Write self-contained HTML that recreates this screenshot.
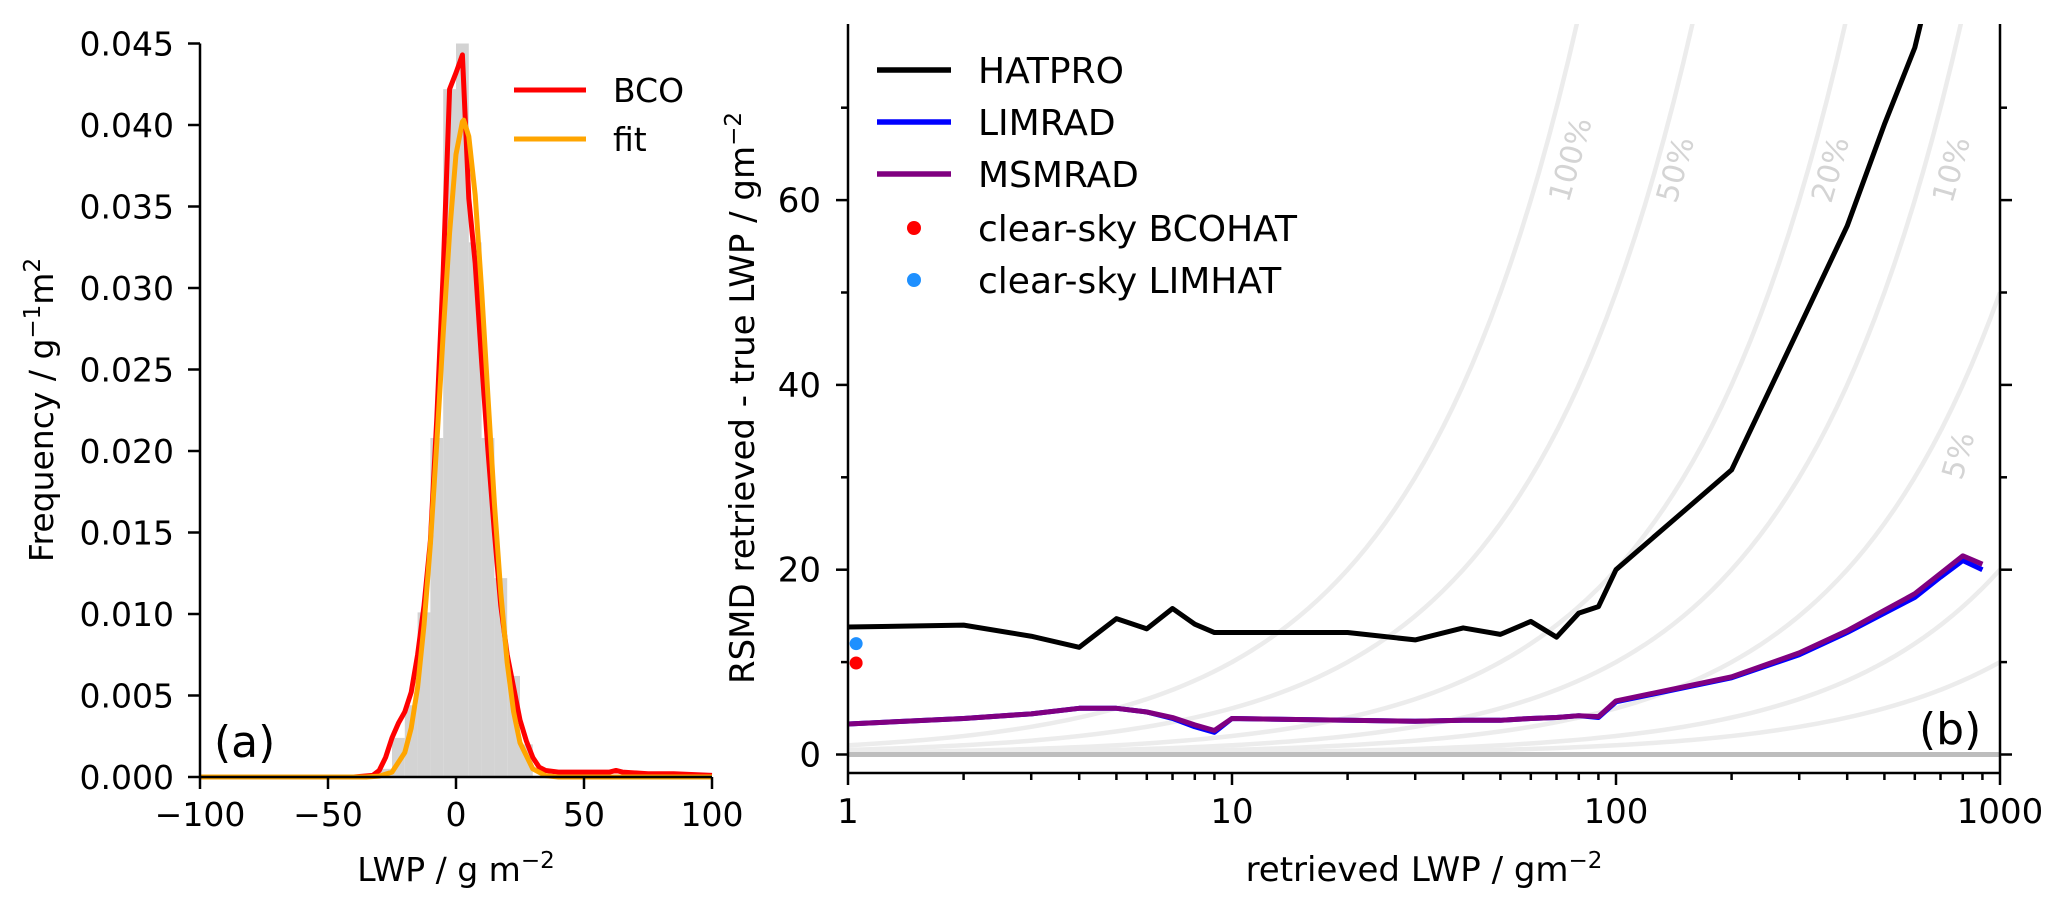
<!DOCTYPE html>
<html>
<head>
<meta charset="utf-8">
<style>
html,body{margin:0;padding:0;background:#fff;}
svg{display:block;font-family:"DejaVu Sans","Liberation Sans",sans-serif;}
</style>
</head>
<body>
<svg id="fig" width="2067" height="910" viewBox="0 0 2067 910" xmlns="http://www.w3.org/2000/svg">
<defs>
<clipPath id="clipR"><rect x="848" y="24" width="1152" height="749"/></clipPath>
<clipPath id="clipL"><rect x="200" y="30" width="512" height="747"/></clipPath>
</defs>
<g id="panelA"></g>
<g id="panelB"></g>
</svg>
<script>
// ---------- Panel (a) data ----------
const histEdgesA = [-30,-25,-20,-15,-10,-5,0,5,10,15,20,25,30];
const histHeightsA = [0.0005,0.0024,0.0044,0.0101,0.0208,0.0422,0.0450,0.0328,0.0208,0.0122,0.0062,0.0020];
const bcoX = [-100,-40,-32.5,-30,-27.5,-25,-22.5,-20,-17.5,-15,-12.5,-10,-7.5,-5,-2.5,0,2.5,5,7.5,10,12.5,15,17.5,20,22.5,25,27.5,30,32.5,35,40,50,60,62.5,65,75,85,100];
const bcoY = [0,0,0.0001,0.0004,0.0012,0.0024,0.0033,0.0040,0.0052,0.0075,0.0105,0.0145,0.0220,0.0310,0.0422,0.0432,0.0443,0.0355,0.0315,0.0255,0.0200,0.0150,0.0105,0.0075,0.0055,0.0035,0.0022,0.0012,0.0006,0.0004,0.0003,0.0003,0.0003,0.0004,0.0003,0.0002,0.0002,0.0001];
const fitX = [-100,-35,-30,-25,-20,-17.5,-15,-12.5,-10,-7.5,-5,-2.5,0,2.5,3,5,7.5,10,12.5,15,17.5,20,22.5,25,30,35,40,100];
const fitY = [0,0,0.00005,0.0003,0.0015,0.0030,0.0055,0.0093,0.0143,0.0205,0.0272,0.0334,0.0382,0.0402,0.0403,0.0393,0.0357,0.0299,0.0233,0.0168,0.0113,0.0070,0.0040,0.0021,0.0005,0.00008,0,0];
const xTicksA = [-100,-50,0,50,100];
const xTickLabelsA = ["\u2212100","\u221250","0","50","100"];
const yTicksA = [0,0.005,0.01,0.015,0.02,0.025,0.03,0.035,0.04,0.045];
const yTickLabelsA = ["0.000","0.005","0.010","0.015","0.020","0.025","0.030","0.035","0.040","0.045"];

// ---------- Panel (b) data ----------
const lwpX = [1,2,3,4,5,6,7,8,9,10,20,30,40,50,60,70,80,90,100,200,300,400,500,600,700,800,900];
const hatproY = [13.8,14.0,12.8,11.6,14.7,13.6,15.8,14.1,13.2,13.2,13.2,12.4,13.7,13.0,14.4,12.7,15.3,16.0,20.0,30.8,46.2,57.2,68.2,76.5,88,100,110];
const limradY = [3.3,3.9,4.4,5.0,5.0,4.6,3.9,3.0,2.4,3.9,3.7,3.6,3.7,3.7,3.9,4.0,4.2,4.0,5.7,8.3,10.8,13.2,15.3,17.0,19.2,21.0,20.0];
const msmradY = [3.3,3.9,4.4,5.0,5.0,4.6,4.0,3.2,2.6,3.9,3.7,3.6,3.7,3.7,3.9,4.0,4.2,4.1,5.8,8.4,11.0,13.4,15.6,17.4,19.6,21.5,20.6];
const clearBcoX = [1.05], clearBcoY = [9.9];
const clearLimX = [1.05], clearLimY = [12.0];
const pctLevels = [1,0.5,0.2,0.1,0.05,0.02,0.01];
const pctLabels = ["100%","50%","20%","10%","5%"];
const xTicksB = [1,10,100,1000];
const xTickLabelsB = ["1","10","100","1000"];
const yTicksB = [0,20,40,60];
const yTickLabelsB = ["0","20","40","60"];
const yMinorB = [10,30,50,70];

// ---------- scales ----------
const xL = v => 200 + (v + 100) * 2.56;
const yL = v => 777 - v * 16300;
const xR = v => 848 + Math.log10(v) * 384;
const yR = v => 754.5 - v * 9.24;

const NS = "http://www.w3.org/2000/svg";
function mk(tag, attrs, parent, text) {
  const e = document.createElementNS(NS, tag);
  for (const k in attrs) e.setAttribute(k, attrs[k]);
  if (text !== undefined) e.textContent = text;
  parent.appendChild(e);
  return e;
}
function pathFrom(xs, ys, fx, fy) {
  return xs.map((x, i) => (i ? "L" : "M") + fx(x).toFixed(2) + "," + fy(ys[i]).toFixed(2)).join(" ");
}

// ================= Panel A =================
const A = document.getElementById("panelA");
const histG = mk("g", {"clip-path": "url(#clipL)"}, A);


for (let i = 0; i < histHeightsA.length; i++) {
  const x0 = xL(histEdgesA[i]), x1 = xL(histEdgesA[i + 1]);
  const r = mk("rect", {x: x0, y: yL(histHeightsA[i]), width: x1 - x0, height: yL(0) - yL(histHeightsA[i]), fill: "#d3d3d3"}, histG);
  
  
}
const bcoP = mk("path", {d: pathFrom(bcoX, bcoY, xL, yL), fill: "none", stroke: "#ff0000", "stroke-width": 5, "stroke-linejoin": "round"}, A);


const fitP = mk("path", {d: pathFrom(fitX, fitY, xL, yL), fill: "none", stroke: "#ffa500", "stroke-width": 5, "stroke-linejoin": "round"}, A);



// axes A
const axA = mk("g", {stroke: "#000", "stroke-width": 2.5, fill: "none"}, A);


mk("line", {x1: 200, y1: 43.5, x2: 200, y2: 777}, axA);
mk("line", {x1: 200, y1: 777, x2: 712, y2: 777}, axA);
xTicksA.forEach((v, i) => {
  mk("line", {x1: xL(v), y1: 777, x2: xL(v), y2: 789}, axA);
  const t = mk("text", {x: xL(v), y: 826, "font-size": 33, "text-anchor": "middle", fill: "#000"}, A, xTickLabelsA[i]);
  
  
});
yTicksA.forEach((v, i) => {
  mk("line", {x1: 188, y1: yL(v), x2: 200, y2: yL(v)}, axA);
  const t = mk("text", {x: 174, y: yL(v) + 12, "font-size": 33, "text-anchor": "end", fill: "#000"}, A, yTickLabelsA[i]);
  
  
});
</script>
<script>
(function(){
  const A = document.getElementById("panelA");
  A.insertAdjacentHTML("beforeend",
  '<text x="456" y="881" font-size="33" text-anchor="middle">LWP / g m<tspan dy="-13" font-size="23">\u22122</tspan></text>' +
  '<text transform="translate(53,410) rotate(-90)" font-size="33" text-anchor="middle">Frequency / g<tspan dy="-13" font-size="23">\u22121</tspan><tspan dy="13">m</tspan><tspan dy="-13" font-size="23">2</tspan></text>' +
  '<text x="214" y="757" font-size="44">(a)</text>' +
  '<g>' +
  '<line x1="514" y1="90" x2="586" y2="90" stroke="#ff0000" stroke-width="5"/>' +
  '<text x="613" y="102" font-size="33">BCO</text>' +
  '<line x1="514" y1="139" x2="586" y2="139" stroke="#ffa500" stroke-width="5"/>' +
  '<text x="613" y="151" font-size="33">fit</text>' +
  '</g>');
})();
</script>
<script>
// ================= Panel B =================
const B = document.getElementById("panelB");
const plotB = mk("g", {"clip-path": "url(#clipR)"}, B);



const guideXs = [];
for (let k = 0; k <= 120; k++) guideXs.push(Math.pow(10, 3 * k / 120));
pctLevels.forEach(p => {
  const g = mk("path", {d: guideXs.map((x, i) => (i ? "L" : "M") + xR(x).toFixed(2) + "," + yR(p * x).toFixed(2)).join(" "),
    fill: "none", stroke: "#ececec", "stroke-width": 4.5}, plotB);
  
  
});
const zl = mk("line", {x1: 848, y1: yR(0), x2: 2000, y2: yR(0), stroke: "#bdbdbd", "stroke-width": 5}, plotB);



const hp = mk("path", {d: pathFrom(lwpX, hatproY, xR, yR), fill: "none", stroke: "#000", "stroke-width": 5, "stroke-linejoin": "round"}, plotB);


const lr = mk("path", {d: pathFrom(lwpX, limradY, xR, yR), fill: "none", stroke: "#0000ff", "stroke-width": 5, "stroke-linejoin": "round"}, plotB);


const ms = mk("path", {d: pathFrom(lwpX, msmradY, xR, yR), fill: "none", stroke: "#800080", "stroke-width": 5, "stroke-linejoin": "round"}, plotB);


clearBcoX.forEach((x, i) => {
  const c = mk("circle", {cx: xR(x), cy: yR(clearBcoY[i]), r: 6.5, fill: "#ff0000"}, plotB);
  
  
});
clearLimX.forEach((x, i) => {
  const c = mk("circle", {cx: xR(x), cy: yR(clearLimY[i]), r: 6.5, fill: "#1e90ff"}, plotB);
  
  
});

const axB = mk("g", {stroke: "#000", "stroke-width": 2.5, fill: "none"}, B);


mk("line", {x1: 848, y1: 24, x2: 848, y2: 773}, axB);
mk("line", {x1: 2000, y1: 24, x2: 2000, y2: 773}, axB);
mk("line", {x1: 848, y1: 773, x2: 2000, y2: 773}, axB);
xTicksB.forEach((v, i) => {
  mk("line", {x1: xR(v), y1: 773, x2: xR(v), y2: 785}, axB);
  const t = mk("text", {x: xR(v), y: 823, "font-size": 34, "text-anchor": "middle", fill: "#000"}, B, xTickLabelsB[i]);
  
  
});
for (let d = 1; d < 1000; d *= 10) {
  for (let m = 2; m <= 9; m++) mk("line", {x1: xR(d * m), y1: 773, x2: xR(d * m), y2: 780}, axB);
}
yTicksB.forEach((v, i) => {
  mk("line", {x1: 836, y1: yR(v), x2: 848, y2: yR(v)}, axB);
  mk("line", {x1: 2000, y1: yR(v), x2: 2012, y2: yR(v)}, axB);
  const t = mk("text", {x: 821, y: yR(v) + 12, "font-size": 34, "text-anchor": "end", fill: "#000"}, B, yTickLabelsB[i]);
  
  
});
yMinorB.forEach(v => {
  mk("line", {x1: 841, y1: yR(v), x2: 848, y2: yR(v)}, axB);
  mk("line", {x1: 2000, y1: yR(v), x2: 2007, y2: yR(v)}, axB);
});
</script>
<script>
(function(){
  const B = document.getElementById("panelB");
  const pctPos = [[1572,160],[1677,170],[1832,170],[1953,170],[1960,456]];
  let s = '';
  pctPos.forEach((p, i) => {
    s += '<text transform="translate(' + p[0] + ',' + p[1] + ') rotate(-74)" font-size="30" fill="#d4d4d4" text-anchor="middle" dominant-baseline="middle">' + pctLabels[i] + '</text>';
  });
  s += '<text x="1424" y="881" font-size="34" text-anchor="middle">retrieved LWP / gm<tspan dy="-13" font-size="23">\u22122</tspan></text>';
  s += '<text transform="translate(754,398) rotate(-90)" font-size="34" text-anchor="middle">RSMD retrieved - true LWP / gm<tspan dy="-13" font-size="23">\u22122</tspan></text>';
  s += '<text x="1919" y="744" font-size="44">(b)</text>';
  s += '<g>';
  const items = [["HATPRO","#000","line",70],["LIMRAD","#0000ff","line",122],["MSMRAD","#800080","line",174],["clear-sky BCOHAT","#ff0000","dot",228],["clear-sky LIMHAT","#1e90ff","dot",280]];
  items.forEach(it => {
    if (it[2] === "line") s += '<line x1="877" y1="' + it[3] + '" x2="951" y2="' + it[3] + '" stroke="' + it[1] + '" stroke-width="5.5"/>';
    else s += '<circle cx="914" cy="' + it[3] + '" r="7" fill="' + it[1] + '"/>';
    s += '<text x="978" y="' + (it[3] + 13) + '" font-size="36">' + it[0] + '</text>';
  });
  s += '</g>';
  B.insertAdjacentHTML("beforeend", s);
})();
</script>
</body>
</html>
